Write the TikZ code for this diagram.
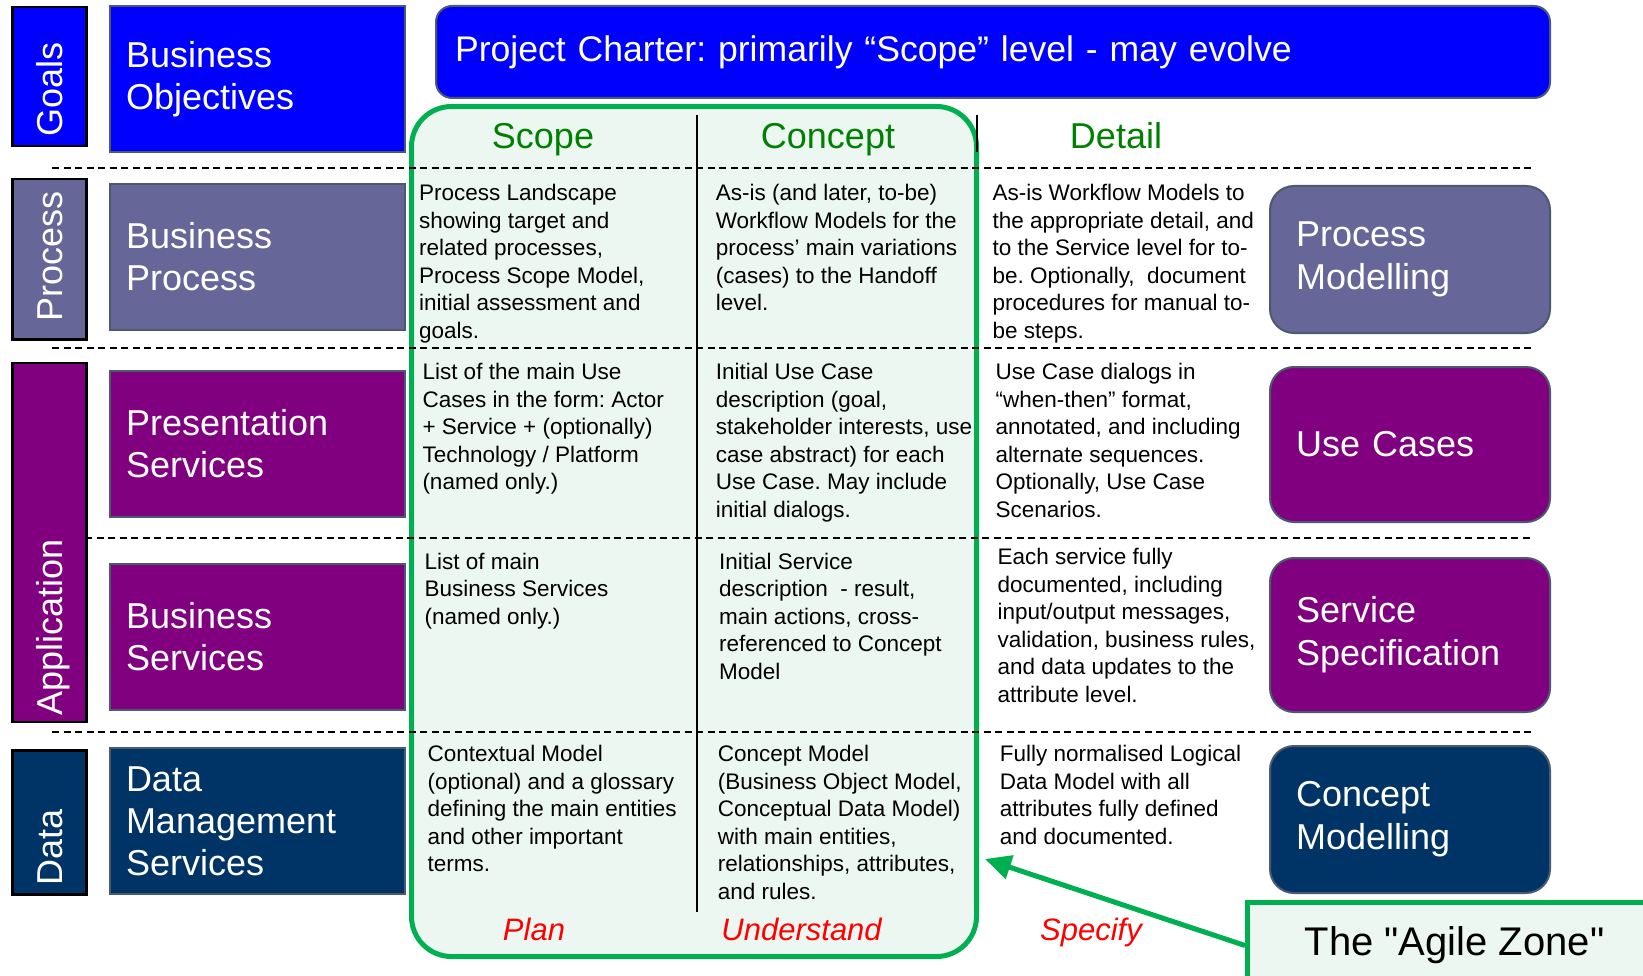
\documentclass[tikz,border=0pt]{standalone}
\usepackage{fontspec}
\setmainfont{Liberation Sans}
\usetikzlibrary{positioning,arrows.meta}
\definecolor{goalblue}{RGB}{0,0,255}
\definecolor{procgray}{RGB}{102,102,153}
\definecolor{apppurple}{RGB}{128,0,128}
\definecolor{datanavy}{RGB}{0,51,102}
\definecolor{zonegreen}{RGB}{0,176,80}
\definecolor{zonefill}{RGB}{237,247,241}
\definecolor{headgreen}{RGB}{0,128,0}
\definecolor{edgegray}{RGB}{75,90,110}
\frenchspacing
\tikzset{
  sidebox/.style={draw=black, line width=2.5pt, minimum width=74pt, inner sep=0pt, anchor=north west},
  sidelabel/.style={rotate=90, anchor=west, inner sep=0pt, text=white,
    font=\fontsize{36}{42}\selectfont, text height=26pt, text depth=0pt},
  layerbox/.style={draw=edgegray, line width=2pt, minimum width=295pt, minimum height=146pt,
    text width=263pt, inner xsep=16pt, align=left, text=white,
    font=\fontsize{36}{42}\selectfont, anchor=north west},
  modelbox/.style={draw=edgegray, line width=2pt, rounded corners=24pt, minimum width=280pt,
    text width=228pt, inner xsep=26pt, align=left, text=white,
    font=\fontsize{36}{43}\selectfont, anchor=north west},
  cell/.style={anchor=north west, inner sep=0pt, align=left, font=\fontsize{22.5}{27.5}\selectfont},
  colhead/.style={text=headgreen, font=\fontsize{36}{42}\selectfont, text height=26pt, text depth=0pt},
  verbword/.style={text=red, font=\fontsize{31}{36}\selectfont\itshape, text height=22pt, text depth=0pt},
  rowline/.style={dash pattern=on 7pt off 4.5pt, line width=2pt},
  colline/.style={line width=2pt},
  agilearrow/.style={draw=zonegreen, line width=5pt, -{Triangle[length=26pt,width=24pt]}},
}

\begin{document}
\begin{tikzpicture}[x=1pt,y=-1pt]
  \useasboundingbox (0,0) rectangle (1643,976);
  \clip (0,0) rectangle (1643,976);
  % agile zone background
  \node[draw=zonegreen, line width=5pt, fill=zonefill, rounded corners=40pt, anchor=north west,
        minimum width=565pt, minimum height=850pt] (agile_zone) at (409,104) {};

  % rows and columns
  \draw[rowline] (52,168) -- (1532,168);
  \draw[rowline] (52,348) -- (1532,348);
  \draw[rowline] (85,537.5) -- (1532,537.5);
  \draw[rowline] (52,732.4) -- (1532,732.4);
  \draw[colline] (697,115) -- (697,912);
  \draw[colline] (977,115) -- (977,152);

  % layers
  \node[sidebox, fill=goalblue, minimum height=139pt] (side_goals) at (11,6) {};
  \node[sidebox, fill=procgray, minimum height=160pt] (side_process) at (11,178) {};
  \node[sidebox, fill=apppurple, minimum height=359pt] (side_app) at (11,361.5) {};
  \node[sidebox, fill=datanavy, minimum height=144pt] (side_data) at (11,749) {};
  \node[sidelabel] at ([yshift=11pt]side_goals.south) {Goals};
  \node[sidelabel] at ([yshift=19pt]side_process.south) {Process};
  \node[sidelabel] at ([yshift=7pt]side_app.south) {Application};
  \node[sidelabel] at ([yshift=10pt]side_data.south) {Data};

  \node[layerbox, fill=goalblue] (biz_obj) at (109,5) {Business\\Objectives};
  \node[layerbox, fill=procgray] (biz_proc) at (109,183) {Business\\Process};
  \node[layerbox, fill=apppurple] (pres_serv) at (109,370) {Presentation\\Services};
  \node[layerbox, fill=apppurple] (biz_serv) at (109,562.7) {Business\\Services};
  \node[layerbox, fill=datanavy] (data_serv) at (109,747) {Data\\Management\\Services};

  \node[draw=edgegray, line width=2pt, fill=goalblue, rounded corners=16pt, anchor=north west,
        minimum width=1114pt, minimum height=92pt, text width=1076pt, inner xsep=19pt,
        align=left, text=white, font=\fontsize{35.6}{42}\selectfont] (charter) at (435,5)
        {Project Charter: primarily “Scope” level - may evolve};

  % headings
  \node[colhead] (h_scope) at (543,136) {Scope};
  \node[colhead] (h_concept) at (828,136) {Concept};
  \node[colhead] (h_detail) at (1116,136) {Detail};

  % process row
  \node[cell] (c_11) at (419,184) {Process Landscape\\showing target and\\related processes,\\Process Scope Model,\\initial assessment and\\goals.};
  \node[cell] (c_12) at (715.6,184) {As-is (and later, to-be)\\Workflow Models for the\\process’ main variations\\(cases) to the Handoff\\level.};
  \node[cell] (c_13) at (992.3,184) {As-is Workflow Models to\\the appropriate detail, and\\to the Service level for to-\\be. Optionally,~ document\\procedures for manual to-\\be steps.};
  % presentation row
  \node[cell] (c_21) at (422.3,363) {List of the main Use\\Cases in the form: Actor\\+ Service + (optionally)\\Technology / Platform\\(named only.)};
  \node[cell] (c_22) at (715.6,363) {Initial Use Case\\description (goal,\\stakeholder interests, use\\case abstract) for each\\Use Case. May include\\initial dialogs.};
  \node[cell] (c_23) at (995.4,363) {Use Case dialogs in\\“when-then” format,\\annotated, and including\\alternate sequences.\\Optionally, Use Case\\Scenarios.};
  % business service row
  \node[cell] (c_31) at (424.4,552.6) {List of main\\Business Services\\(named only.)};
  \node[cell] (c_32) at (718.8,552.6) {Initial Service\\description~ - result,\\main actions, cross-\\referenced to Concept\\Model};
  \node[cell] (c_33) at (997.5,548.4) {Each service fully\\documented, including\\input/output messages,\\validation, business rules,\\and data updates to the\\attribute level.};
  % data row
  \node[cell] (c_41) at (427.5,745.4) {Contextual Model\\(optional) and a glossary\\defining the main entities\\and other important\\terms.};
  \node[cell] (c_42) at (717.7,745.4) {Concept Model\\(Business Object Model,\\Conceptual Data Model)\\with main entities,\\relationships, attributes,\\and rules.};
  \node[cell] (c_43) at (999.6,745.4) {Fully normalised Logical\\Data Model with all\\attributes fully defined\\and documented.};

  % models
  \node[modelbox, fill=procgray, minimum height=147pt] (m_process) at (1269,185) {Process\\Modelling};
  \node[modelbox, fill=apppurple, minimum height=155pt] (m_usecase) at (1269,366) {Use Cases};
  \node[modelbox, fill=apppurple, minimum height=154pt] (m_service) at (1269,557) {Service\\Specification};
  \node[modelbox, fill=datanavy, minimum height=147pt] (m_concept) at (1269,745) {Concept\\Modelling};

  \node[verbword] (v_plan) at (534,929) {Plan};
  \node[verbword] (v_understand) at (801.6,929) {Understand};
  \node[verbword] (v_specify) at (1091,929) {Specify};

  \node[draw=zonegreen, line width=5pt, fill=zonefill, anchor=north west, minimum width=414pt,
        minimum height=86pt, font=\fontsize{40}{46}\selectfont] (agile_box) at (1245,900)
        {The \textquotedbl Agile Zone\textquotedbl};
  \coordinate (zone_tip) at (985,859);
  \draw[agilearrow] (agile_box.west) -- (zone_tip);
\end{tikzpicture}
\end{document}
